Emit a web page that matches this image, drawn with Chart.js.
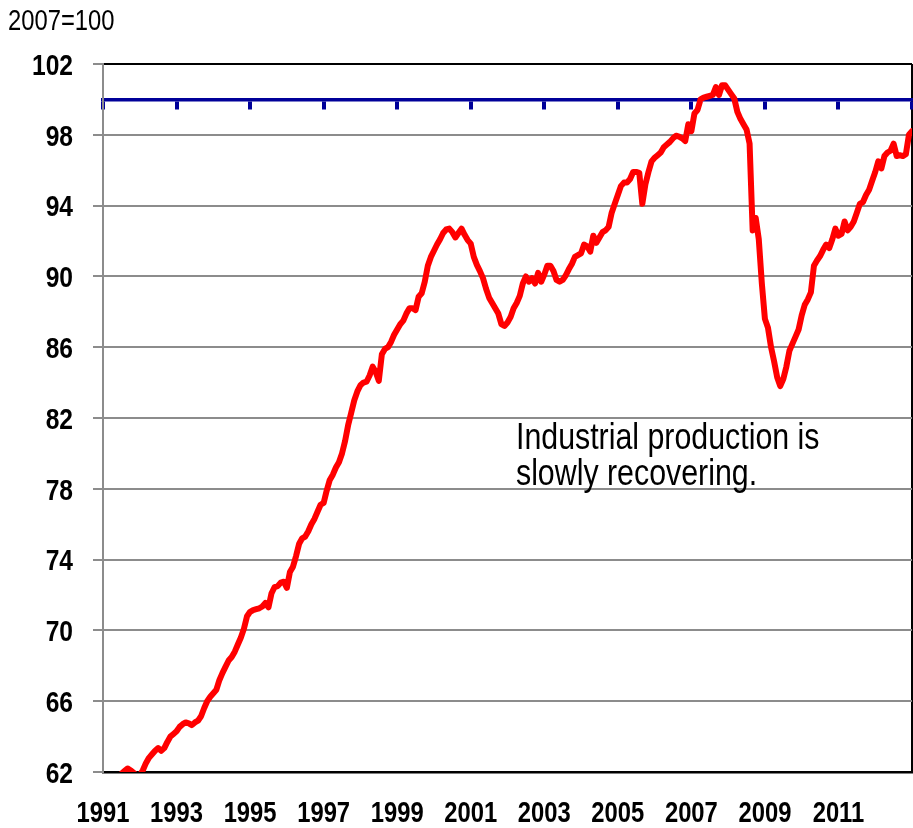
<!DOCTYPE html>
<html>
<head>
<meta charset="utf-8">
<script src="https://cdn.jsdelivr.net/npm/chart.js@4.4.1/dist/chart.umd.min.js"></script>
<style>
  html, body { margin: 0; padding: 0; background: #ffffff; }
  canvas { display: block; }
</style>
</head>
<body>
<canvas id="ipChart" width="913" height="828"></canvas>
<script>
// Production industrielle, indice mensuel (2007=100), janvier 1991 -> janvier 2013
const startYear = 1991;
const ipIndex = [
  61.5, 61.3, 61.0, 61.2, 61.5, 61.7, 61.9, 62.05, 62.2, 62.1, 61.95, 61.8,   // 1991
  61.8, 62.1, 62.5, 62.8, 63.0, 63.2, 63.35, 63.2, 63.35, 63.7, 64.0, 64.15,  // 1992
  64.3, 64.55, 64.7, 64.8, 64.75, 64.65, 64.8, 64.9, 65.15, 65.6, 66.0, 66.25, // 1993
  66.45, 66.65, 67.2, 67.6, 67.95, 68.3, 68.5, 68.8, 69.2, 69.6, 70.1, 70.8,  // 1994
  71.05, 71.15, 71.2, 71.25, 71.35, 71.55, 71.3, 72.1, 72.45, 72.5, 72.7, 72.75, // 1995
  72.4, 73.3, 73.6, 74.2, 74.9, 75.2, 75.3, 75.6, 76.0, 76.3, 76.7, 77.1,     // 1996
  77.2, 77.9, 78.5, 78.8, 79.2, 79.5, 80.0, 80.7, 81.6, 82.3, 83.0, 83.5,     // 1997
  83.85, 84.0, 84.05, 84.4, 84.9, 84.6, 84.1, 85.6, 85.9, 86.0, 86.3, 86.7,   // 1998
  87.0, 87.3, 87.5, 87.9, 88.2, 88.2, 88.1, 88.85, 89.05, 89.7, 90.6, 91.1,   // 1999
  91.45, 91.8, 92.1, 92.45, 92.65, 92.7, 92.5, 92.2, 92.45, 92.7, 92.35, 92.05, // 2000
  91.85, 91.1, 90.65, 90.3, 89.9, 89.3, 88.8, 88.5, 88.2, 87.9, 87.3, 87.2,   // 2001
  87.4, 87.7, 88.2, 88.5, 88.9, 89.6, 90.0, 89.7, 89.9, 89.6, 90.2, 89.7,     // 2002
  90.1, 90.6, 90.6, 90.3, 89.8, 89.7, 89.8, 90.05, 90.4, 90.7, 91.1, 91.2,    // 2003
  91.3, 91.8, 91.7, 91.4, 92.3, 91.9, 92.2, 92.5, 92.6, 92.8, 93.6, 94.1,     // 2004
  94.6, 95.1, 95.3, 95.3, 95.5, 95.9, 95.9, 95.85, 94.1, 95.2, 95.9, 96.5,    // 2005
  96.7, 96.85, 97.0, 97.3, 97.45, 97.6, 97.8, 97.95, 97.9, 97.8, 97.65, 98.6, // 2006
  98.2, 99.2, 99.4, 100.0, 100.1, 100.15, 100.2, 100.25, 100.7, 100.25, 100.8, 100.8, // 2007
  100.55, 100.3, 100.05, 99.3, 98.9, 98.6, 98.3, 97.5, 92.6, 93.3, 92.1, 89.6, // 2008
  87.6, 87.1, 86.0, 85.2, 84.3, 83.8, 84.2, 84.9, 85.8, 86.2, 86.6, 87.0,     // 2009
  87.8, 88.4, 88.7, 89.1, 90.6, 90.9, 91.15, 91.5, 91.8, 91.6, 92.1, 92.7,    // 2010
  92.3, 92.4, 93.1, 92.6, 92.8, 93.1, 93.6, 94.1, 94.2, 94.6, 94.9, 95.4,     // 2011
  95.9, 96.5, 96.1, 96.8, 97.0, 97.1, 97.5, 96.8, 96.85, 96.8, 96.9, 98.0,    // 2012
  98.2                                                                         // 2013
];
const axisYears = [1991, 2013];
const yRange = [62, 102];
const baseLevel = 100;
const unitLabel = '2007=100';
const noteLines = ['Industrial production is', 'slowly recovering.'];

const sans = "'Liberation Sans', Arial, sans-serif";
const NARROW = 0.82; // pas d'Arial Narrow installée : on resserre Liberation Sans
const gridGray = '#8c8c8c';
const navy = '#000099';

// Points de la série : x en années décimales (un point par mois)
const points = ipIndex.map((v, i) => ({ x: startYear + i / 12, y: v }));

function fillNarrow(ctx, text, x, y, align) {
  ctx.save();
  ctx.translate(x, y);
  ctx.scale(NARROW, 1);
  ctx.textAlign = align;
  ctx.textBaseline = 'alphabetic';
  ctx.fillText(text, 0, 0);
  ctx.restore();
}

// Textes en police étroite : unité, graduations et commentaire
const narrowTextPlugin = {
  id: 'narrowText',
  afterDraw(chart, args, opts) {
    const ctx = chart.ctx;
    const xs = chart.scales.x;
    const ys = chart.scales.y;
    ctx.save();
    ctx.fillStyle = '#000000';

    ctx.font = '29px ' + sans;
    fillNarrow(ctx, unitLabel, 8, 30, 'left');

    ctx.font = 'bold 30px ' + sans;
    ys.ticks.forEach((t) => {
      fillNarrow(ctx, String(t.value), ys.right - 30, ys.getPixelForValue(t.value) + 10.7, 'right');
    });

    ctx.font = 'bold 29px ' + sans;
    xs.ticks.forEach((t) => {
      if (t.value === axisYears[1]) return;
      fillNarrow(ctx, String(t.value), xs.getPixelForValue(t.value), xs.top + 50, 'center');
    });

    ctx.font = '37px ' + sans;
    const nx = xs.getPixelForValue(opts.x);
    const ny = ys.getPixelForValue(opts.y);
    noteLines.forEach((line, k) => fillNarrow(ctx, line, nx, ny + k * opts.lineHeight, 'left'));
    ctx.restore();
  }
};

new Chart(document.getElementById('ipChart'), {
  type: 'line',
  data: {
    datasets: [{
      data: points,
      borderColor: '#ff0000',
      borderWidth: 6,
      pointRadius: 0,
      tension: 0,
      borderJoinStyle: 'round',
      borderCapStyle: 'round'
    }]
  },
  options: {
    responsive: false,
    animation: false,
    events: [],
    layout: { padding: { left: 8, right: 1, top: 64, bottom: 0 } },
    plugins: {
      legend: { display: false },
      tooltip: { enabled: false },
      narrowText: { x: 2002.23, y: 80.25, lineHeight: 36.5 }
    },
    scales: {
      x: {
        type: 'linear',
        position: 'bottom',
        min: axisYears[0],
        max: axisYears[1],
        afterFit: (scale) => { scale.height = 56; scale.paddingLeft = 0; scale.paddingRight = 0; },
        border: { color: '#000000', width: 2.5 },
        grid: {
          drawTicks: false,
          lineWidth: 2,
          color: (c) => (c.tick && c.tick.value === axisYears[1]) ? '#000000' : 'rgba(0,0,0,0)'
        },
        ticks: { display: false, stepSize: 2 }
      },
      // axe horizontal qui croise à 100 (ligne bleue avec graduations)
      x2: {
        type: 'linear',
        axis: 'x',
        position: { y: baseLevel },
        min: axisYears[0],
        max: axisYears[1],
        afterFit: (scale) => { scale.paddingLeft = 0; scale.paddingRight = 0; },
        border: { color: navy, width: 3.5 },
        grid: { drawOnChartArea: false, drawTicks: true, tickLength: 8, color: navy, lineWidth: 4 },
        ticks: { display: false, stepSize: 2 }
      },
      y: {
        min: yRange[0],
        max: yRange[1],
        afterFit: (scale) => { scale.width = 95; },
        border: { color: gridGray, width: 2 },
        grid: {
          lineWidth: 2,
          tickLength: 10,
          tickColor: gridGray,
          color: (c) => (c.tick && c.tick.value === yRange[1]) ? '#000000' : gridGray
        },
        ticks: { display: false, stepSize: 4 }
      }
    }
  },
  plugins: [narrowTextPlugin]
});
</script>
</body>
</html>
